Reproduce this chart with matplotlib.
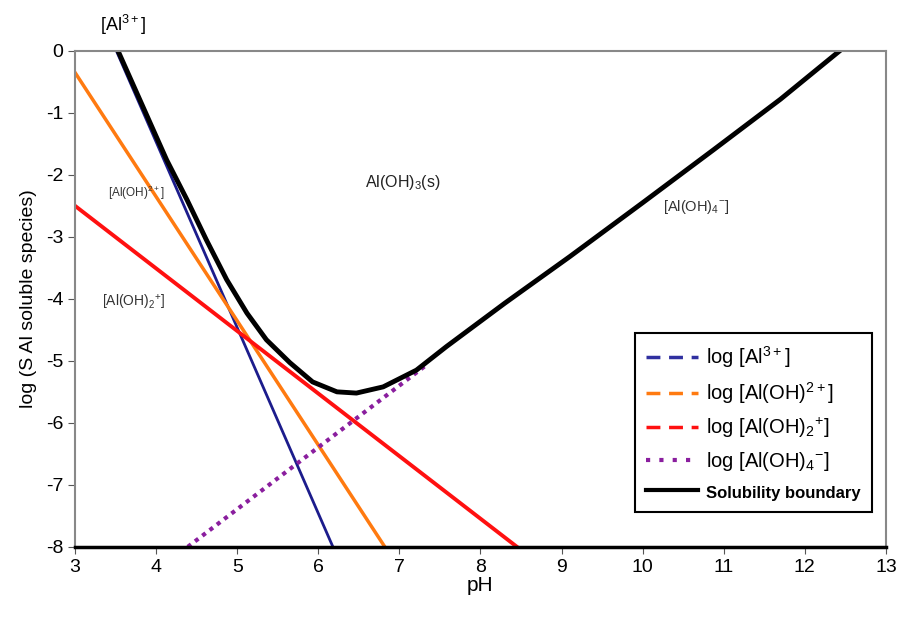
import matplotlib.pyplot as plt
from matplotlib.lines import Line2D

plt.rcParams['font.family'] = ['Liberation Sans', 'DejaVu Sans']
plt.rcParams['mathtext.fontset'] = 'custom'
plt.rcParams['mathtext.rm'] = 'Liberation Sans'
plt.rcParams['axes.unicode_minus'] = False

# species lines (pH, log conc)
al3_ph = [3.51, 6.18]
al3_log = [0.0, -8.0]
aloh_ph = [3.0, 6.82]
aloh_log = [-0.35, -8.0]
aloh2_ph = [3.0, 8.45]
aloh2_log = [-2.5, -8.0]
aloh4_ph = [4.39, 7.35]
aloh4_log = [-8.0, -5.05]

# solubility boundary
sol_ph = [3.53, 3.83, 4.13, 4.38, 4.62, 4.87, 5.12, 5.36, 5.65, 5.93, 6.23,
          6.47, 6.8, 7.21, 7.58, 8.3, 9.1, 10.0, 10.87, 11.7, 12.43]
sol_log = [0.0, -0.88, -1.76, -2.4, -3.05, -3.69, -4.23, -4.66, -5.03, -5.34,
           -5.5, -5.52, -5.42, -5.15, -4.77, -4.07, -3.32, -2.45, -1.6, -0.78,
           0.0]

fig = plt.figure(figsize=(9.04, 6.2), dpi=100)
ax = fig.add_axes([0.083, 0.118, 0.897, 0.800])

ax.plot(al3_ph, al3_log, color='#1c1c8c', lw=2)
ax.plot(aloh_ph, aloh_log, color='#ff7a10', lw=2.5)
ax.plot(aloh2_ph, aloh2_log, color='#ff1010', lw=2.8)
ax.plot(aloh4_ph, aloh4_log, color='#8a1e9e', lw=3, ls=(0, (1, 1.2)))
ax.plot(sol_ph, sol_log, color='black', lw=3.5, solid_joinstyle='round')

ax.set_xlim(3, 13)
ax.set_ylim(-8, 0)
ax.set_xticks(range(3, 14))
ax.set_yticks(range(-8, 1))
ax.tick_params(labelsize=14, length=5, color='#555555')
ax.set_xlabel('pH', fontsize=15, labelpad=0)
ax.set_ylabel('log (S Al soluble species)', fontsize=14, labelpad=6)
for s in ['top', 'right', 'left']:
    ax.spines[s].set_color('#888888')
    ax.spines[s].set_linewidth(1.5)
ax.spines['bottom'].set_linewidth(2.5)

# region labels
ax.text(3.59, 0.42, r'[Al$^{3+}$]', fontsize=13, ha='center', va='center', clip_on=False)
ax.text(3.41, -2.29, r'[Al(OH)$^{2+}$]', fontsize=8.5, ha='left', va='center', color='#333333')
ax.text(3.33, -4.06, r'[Al(OH)$_2$$^{+}$]', fontsize=10, ha='left', va='center', color='#333333')
ax.text(6.58, -2.13, r'Al(OH)$_3$(s)', fontsize=11.5, ha='left', va='center', color='#222222')
ax.text(10.25, -2.52, r'[Al(OH)$_4$$^{-}$]', fontsize=10.5, ha='left', va='center', color='#333333')

handles = [
    Line2D([], [], color='#3030a0', lw=2.5, ls=(0, (4, 2.5))),
    Line2D([], [], color='#ff7a10', lw=2.5, ls=(0, (4, 2.5))),
    Line2D([], [], color='#ff1010', lw=2.5, ls=(0, (4, 2.5))),
    Line2D([], [], color='#8a1e9e', lw=3, ls=(0, (1, 2.2))),
    Line2D([], [], color='black', lw=3),
]
labels = [r'log [Al$^{3+}$]', r'log [Al(OH)$^{2+}$]', r'log [Al(OH)$_2$$^{+}$]',
          r'log [Al(OH)$_4$$^{-}$]', 'Solubility boundary']
leg = ax.legend(handles, labels, loc='lower right', bbox_to_anchor=(0.983, 0.071),
                borderaxespad=0, fontsize=14.5, fancybox=False, edgecolor='black',
                framealpha=1, handlelength=2.6, handletextpad=0.4, labelspacing=0.5,
                borderpad=0.55)
leg.get_frame().set_linewidth(1.5)
leg.get_texts()[4].set_fontsize(12)
leg.get_texts()[4].set_fontweight('bold')

fig.savefig('out.png', dpi=100)
